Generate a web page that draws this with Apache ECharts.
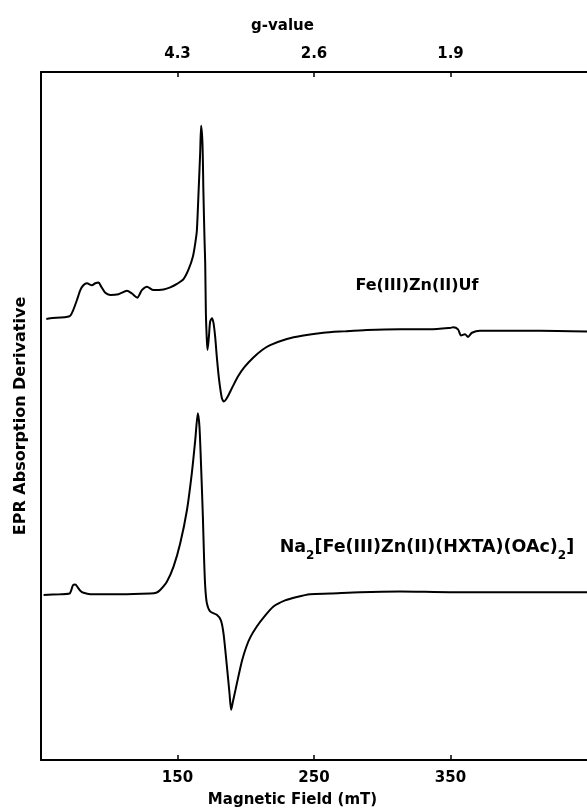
<!DOCTYPE html>
<html>
<head>
<meta charset="utf-8">
<script src="https://cdn.jsdelivr.net/npm/echarts@6/dist/echarts.min.js"></script>
<style>
	html, body { margin: 0; padding: 0; background: #fff; }
	#chart { width: 587px; height: 810px; }
</style>
</head>
<body>
<div id="chart"></div>
<script>
// magnetic field (mT) and derivative signal (arb. units, 0-100 box height)
const fieldUf = [53.9, 56.8, 70.9, 73.6, 76.4, 78.8, 81.0, 83.7, 87.3, 89.8, 92.2, 94.1, 97.1, 100.7, 106.8, 113.0, 116.6, 120.7, 122.3, 123.9, 127.6, 132.4, 139.8, 144.7, 149.6, 154.4, 158.1, 161.3, 163.0, 164.2, 165.4, 166.6, 167.3, 168.3, 169.0, 169.8, 170.3, 170.8, 171.5, 172.0, 173.0, 173.9, 175.2, 176.4, 177.6, 178.8, 180.5, 182.5, 184.0, 185.5, 187.5, 190.5, 194.5, 199.0, 205.6, 212.0, 217.9, 230.1, 242.2, 256.9, 271.5, 288.7, 313.0, 335.0, 349.6, 352.0, 355.5, 357.7, 360.6, 362.8, 365.7, 371.6, 386.2, 415.5, 450]
const signalUf = [64.1, 64.2, 64.5, 65.4, 66.9, 68.3, 69.0, 69.3, 69.0, 69.3, 69.4, 68.8, 67.9, 67.6, 67.7, 68.2, 67.8, 67.2, 67.7, 68.3, 68.8, 68.3, 68.4, 68.7, 69.2, 69.9, 71.3, 73.2, 75.1, 77.0, 82.4, 88.2, 92.2, 89.6, 82.4, 75.6, 72.2, 64.9, 61.0, 59.6, 61.5, 63.7, 64.2, 63.5, 61.5, 58.6, 55.2, 52.6, 52.1, 52.4, 53.1, 54.3, 55.8, 57.1, 58.5, 59.6, 60.3, 61.2, 61.7, 62.1, 62.3, 62.5, 62.6, 62.6, 62.8, 62.9, 62.6, 61.7, 61.9, 61.5, 62.1, 62.4, 62.4, 62.4, 62.3]

const fieldNa = [51.9, 64.1, 70.9, 72.2, 73.4, 75.1, 76.9, 78.8, 81.2, 86.1, 108.1, 130.0, 134.4, 137.3, 142.2, 147.1, 152.0, 156.9, 160.5, 163.0, 164.9, 166.1, 167.3, 168.6, 169.5, 170.3, 171.5, 173.9, 178.8, 181.8, 183.7, 186.2, 188.1, 189.3, 190.5, 192.5, 195.0, 197.5, 200.5, 203.5, 208.1, 213.0, 220.3, 228.8, 237.4, 247.1, 261.8, 283.7, 313.0, 349.6, 386.2, 450]
const signalNa = [24.0, 24.1, 24.2, 24.7, 25.4, 25.5, 25.1, 24.6, 24.3, 24.1, 24.1, 24.2, 24.3, 24.7, 25.9, 28.1, 31.5, 36.3, 41.7, 46.5, 50.4, 48.4, 42.6, 35.3, 29.1, 25.2, 22.8, 21.6, 21.1, 20.3, 18.4, 13.6, 9.7, 7.3, 8.4, 10.2, 12.5, 14.6, 16.5, 17.9, 19.4, 20.7, 22.3, 23.2, 23.7, 24.1, 24.2, 24.4, 24.5, 24.4, 24.4, 24.4]

const fieldTicks = [150, 250, 350]
const gTicks = [150, 250, 350]
const gLabels = ['4.3', '2.6', '1.9']

const font = 'DejaVu Sans'

const pairs = (xs, ys) => xs.map((x, i) => [x, ys[i]])

var chart = echarts.init(document.getElementById('chart'))

var axisBase = {
	type: 'value',
	min: 50,
	max: 450,
	splitLine: { show: false },
	axisLine: { show: true, lineStyle: { color: '#000', width: 2 } },
	axisTick: {
		show: true,
		inside: true,
		length: 5,
		customValues: fieldTicks,
		lineStyle: { color: '#000', width: 1.5 }
	}
}

var option = {
	animation: false,
	backgroundColor: '#fff',
	grid: { left: 41, right: 0, top: 72, bottom: 50, outerBoundsMode: 'none' },
	xAxis: [
		Object.assign({}, axisBase, {
			position: 'bottom',
			name: 'Magnetic Field (mT)',
			nameLocation: 'middle',
			nameGap: 33,
			nameTextStyle: { fontFamily: font, fontWeight: 'bold', fontSize: 15, color: '#000', padding: [0, 43, 0, 0] },
			axisLabel: {
				customValues: fieldTicks,
				margin: 11,
				fontFamily: font, fontWeight: 'bold', fontSize: 15, color: '#000'
			}
		}),
		Object.assign({}, axisBase, {
			position: 'top',
			name: 'g-value',
			nameLocation: 'middle',
			nameGap: 38,
			nameTextStyle: { fontFamily: font, fontWeight: 'bold', fontSize: 15, color: '#000', padding: [0, 63, 0, 0] },
			axisTick: Object.assign({}, axisBase.axisTick, { customValues: gTicks }),
			axisLabel: {
				customValues: gTicks,
				margin: 10,
				formatter: (v) => gLabels[gTicks.indexOf(v)],
				fontFamily: font, fontWeight: 'bold', fontSize: 15, color: '#000'
			}
		})
	],
	yAxis: {
		type: 'value',
		min: 0,
		max: 100,
		name: 'EPR Absorption Derivative',
		nameLocation: 'middle',
		nameGap: 12,
		nameTextStyle: { fontFamily: font, fontWeight: 'bold', fontSize: 16, color: '#000' },
		splitLine: { show: false },
		axisTick: { show: false },
		axisLabel: { show: false },
		axisLine: { show: true, lineStyle: { color: '#000', width: 2 } }
	},
	series: [{
		name: 'Fe(III)Zn(II)Uf',
		type: 'line',
		data: pairs(fieldUf, signalUf),
		showSymbol: false,
		smooth: 0.25,
		lineStyle: { color: '#000', width: 2 },
		markPoint: {
			symbolSize: 1,
			itemStyle: { color: 'transparent' },
			data: [{ coord: [280.1, 68.9] }],
			label: {
				show: true,
				position: 'right',
				distance: 0,
				formatter: 'Fe(III)Zn(II)Uf',
				fontFamily: font, fontWeight: 'bold', fontSize: 16, color: '#000'
			}
		}
	}, {
		name: 'Na2[Fe(III)Zn(II)(HXTA)(OAc)2]',
		type: 'line',
		data: pairs(fieldNa, signalNa),
		showSymbol: false,
		smooth: 0.25,
		lineStyle: { color: '#000', width: 2 },
		markPoint: {
			symbolSize: 1,
			itemStyle: { color: 'transparent' },
			data: [{ coord: [224.6, 30.5] }],
			label: {
				show: true,
				position: 'right',
				distance: 0,
				formatter: '{t|Na}{s|2}{t|[Fe(III)Zn(II)(HXTA)(OAc)}{s|2}{t|]}',
				rich: {
					t: { fontFamily: font, fontWeight: 'bold', fontSize: 17.5, color: '#000', lineHeight: 22, verticalAlign: 'top' },
					s: { fontFamily: font, fontWeight: 'bold', fontSize: 12, color: '#000', lineHeight: 12, verticalAlign: 'top', padding: [11, 0, 0, 0] }
				}
			}
		}
	}]
}

chart.setOption(option)
</script>
</body>
</html>
